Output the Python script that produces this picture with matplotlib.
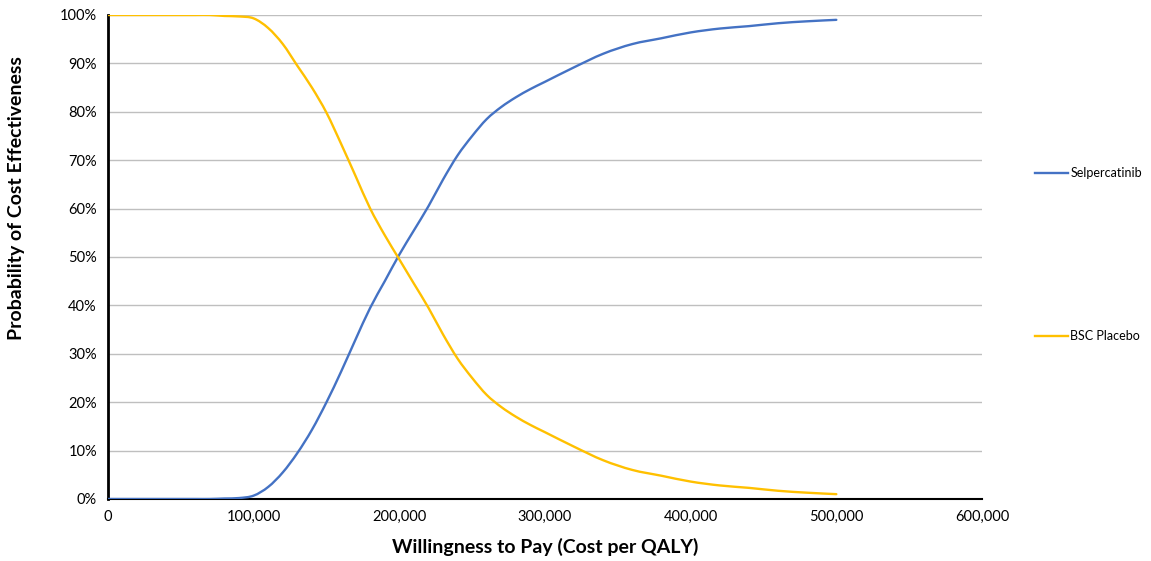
import matplotlib
matplotlib.use("Agg")
import matplotlib.pyplot as plt
from matplotlib.lines import Line2D
from matplotlib.patches import PathPatch
from matplotlib.path import Path
from matplotlib.ticker import FuncFormatter, MultipleLocator

plt.rcParams["font.family"] = ["Lato", "DejaVu Sans"]

# willingness to pay thresholds (cost per QALY)
wtp = [0, 10000, 20000, 30000, 40000, 50000, 60000, 70000, 80000, 90000,
       100000, 110000, 120000, 130000, 140000, 150000, 160000, 170000, 180000, 190000,
       200000, 210000, 220000, 230000, 240000, 250000, 260000, 270000, 280000, 290000,
       300000, 320000, 340000, 360000, 380000, 400000, 420000, 440000, 460000, 480000,
       500000]

# probability of cost effectiveness (%)
selpercatinib = [0, 0, 0, 0, 0, 0, 0, 0, 0.1, 0.2,
                 0.7, 2.5, 5.5, 9.5, 14.3, 20, 26.3, 33, 39.5, 45,
                 50.5, 55.5, 60.5, 66, 71, 75, 78.5, 81, 83, 84.7,
                 86.2, 89.2, 92, 94, 95.2, 96.4, 97.2, 97.7, 98.3, 98.7,
                 99]
bsc_placebo = [100, 100, 100, 100, 100, 100, 100, 100, 99.8, 99.7,
               99.3, 97.3, 94, 89.5, 85, 79.8, 73.4, 66.7, 60, 54.5,
               49.5, 44.5, 39.5, 34, 29, 25, 21.5, 19, 17, 15.3,
               13.8, 10.8, 8, 6, 4.8, 3.6, 2.8, 2.3, 1.7, 1.3,
               1]

series_names = ["Selpercatinib", "BSC Placebo"]
series_colors = ["#4472C4", "#FFC000"]


def smooth_path(xs, ys, tension=1 / 6):
    """Excel-like smoothed line: Catmull-Rom segments drawn as cubic Beziers."""
    verts = [(xs[0], ys[0])]
    codes = [Path.MOVETO]
    n = len(xs)
    for i in range(n - 1):
        x0, y0 = (xs[i - 1], ys[i - 1]) if i > 0 else (xs[i], ys[i])
        x1, y1 = xs[i], ys[i]
        x2, y2 = xs[i + 1], ys[i + 1]
        x3, y3 = (xs[i + 2], ys[i + 2]) if i + 2 < n else (x2, y2)
        c1 = (x1 + (x2 - x0) * tension, y1 + (y2 - y0) * tension)
        c2 = (x2 - (x3 - x1) * tension, y2 - (y3 - y1) * tension)
        verts += [c1, c2, (x2, y2)]
        codes += [Path.CURVE4] * 3
    return Path(verts, codes)


fig = plt.figure(figsize=(11.51, 5.61), dpi=100)
ax = fig.add_axes([108 / 1151, 1 - 499 / 561, (982 - 108) / 1151, (499 - 15) / 561])

for values, name, color in zip([selpercatinib, bsc_placebo], series_names, series_colors):
    ax.add_patch(PathPatch(smooth_path(wtp, values), facecolor="none", edgecolor=color,
                           linewidth=1.7, capstyle="round", joinstyle="round", zorder=3))

ax.set_xlim(0, 600000)
ax.set_ylim(0, 100)
ax.xaxis.set_major_locator(MultipleLocator(100000))
ax.yaxis.set_major_locator(MultipleLocator(10))
ax.xaxis.set_major_formatter(FuncFormatter(lambda v, p: f"{int(v):,}"))
ax.yaxis.set_major_formatter(FuncFormatter(lambda v, p: f"{int(v)}%"))
ax.tick_params(length=0, labelsize=10.5, colors="#000000", pad=8)
ax.grid(axis="y", color="#BFBFBF", linewidth=1)
ax.set_axisbelow(True)

for side in ["top", "right"]:
    ax.spines[side].set_visible(False)
ax.spines["left"].set_linewidth(2)
ax.spines["bottom"].set_linewidth(1.5)

ax.set_xlabel("Willingness to Pay (Cost per QALY)", fontsize=14, fontweight="bold", labelpad=10)
fig.text(17 / 1151, 1 - 198 / 561, "Probability of Cost Effectiveness", rotation=90,
         ha="center", va="center", fontsize=14, fontweight="bold")

# Excel style legend: entries spread down the right side
for name, color, ypix in zip(series_names, series_colors, [173, 336]):
    handle = Line2D([], [], color=color, linewidth=1.7)
    fig.legend([handle], [name], loc="center left", frameon=False,
               bbox_to_anchor=(1029 / 1151, 1 - ypix / 561), fontsize=9,
               handlelength=2.6, handletextpad=0.2, borderpad=0)

fig.savefig("out.png", dpi=100)
